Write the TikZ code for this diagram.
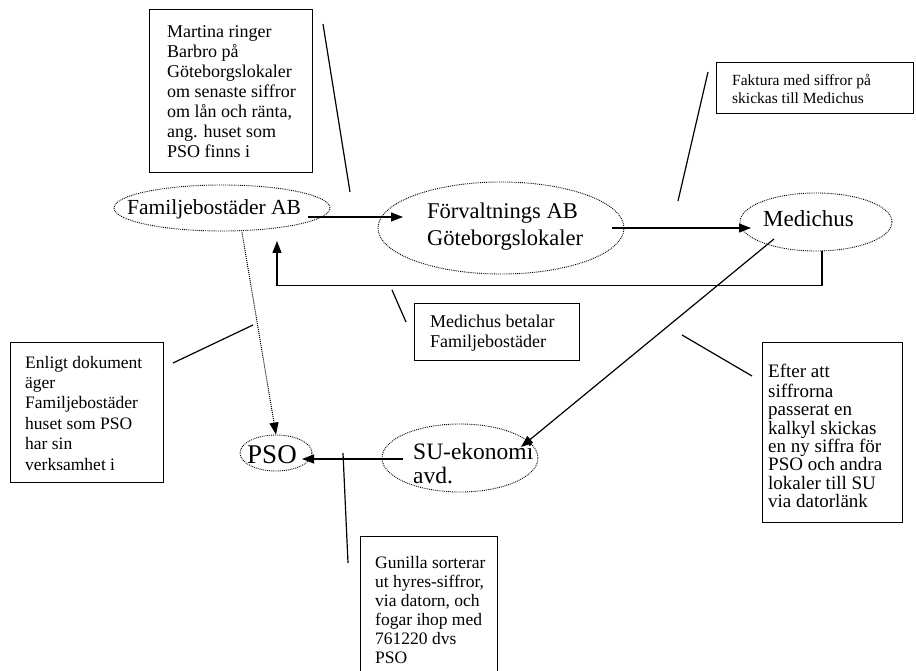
\documentclass[tikz,border=0pt]{standalone}
\usepackage{fontspec}
\setmainfont{Liberation Serif}
\usetikzlibrary{shapes.geometric,arrows.meta,calc}
\begin{document}
\begin{tikzpicture}[x=1pt,y=-1pt,
  ell/.style={draw, densely dotted, line width=0.9pt, ellipse, inner sep=0pt},
  lbl/.style={inner sep=0pt},
  boxn/.style={draw, line width=1.1pt, rectangle, anchor=north west, inner sep=0pt},
  btext/.style={anchor=north west, inner sep=0pt, align=left},
  conn/.style={line width=1.2pt},
  arr/.style={conn, -{Triangle[length=12pt,width=9pt]}},
  darr/.style={line width=1pt, densely dotted, -{Triangle[length=12pt,width=9pt]}}
]
\useasboundingbox (0,0) rectangle (916,671);

% ellipses
\node[ell, minimum width=216pt, minimum height=46pt] (fam) at (222,208) {};
\node[ell, minimum width=246pt, minimum height=92pt] (forv) at (501,228) {};
\node[ell, minimum width=152pt, minimum height=58pt] (med) at (816,222) {};
\node[ell, minimum width=72pt, minimum height=36pt] (pso) at (276,453) {};
\node[ell, minimum width=156pt, minimum height=68pt] (su) at (460,458) {};

% ellipse texts
\node[lbl, anchor=base west, font=\fontsize{21.5}{26}\selectfont] (famt) at (127,215) {Familjebostäder AB};
\node[lbl, anchor=north west, align=left, font=\fontsize{22.5}{27}\selectfont] (forvt) at (427,199.1) {\strut Förvaltnings AB\\Göteborgslokaler};
\node[lbl, anchor=base, font=\fontsize{23}{27}\selectfont] (medt) at (808.5,227) {Medichus};
\node[lbl, anchor=base, font=\fontsize{27}{30}\selectfont] (psot) at (272,463) {PSO};
\node[lbl, anchor=north west, align=left, font=\fontsize{23.5}{24}\selectfont] (sut) at (413,442.2) {\strut SU-ekonomi\\avd.};

% boxes
\node[boxn, minimum width=163pt, minimum height=163pt] (b1) at (149,9) {};
\node[btext, font=\fontsize{18}{20}\selectfont] (t1) at (167,23) {\strut Martina ringer\\Barbro på\\Göteborgslokaler\\om senaste siffror\\om lån och ränta,\\ang. huset som\\PSO finns i};

\node[boxn, minimum width=197pt, minimum height=51pt] (b2) at (716,62) {};
\node[btext, font=\fontsize{15.5}{18}\selectfont] (t2) at (732,72.4) {\strut Faktura med siffror på\\skickas till Medichus};

\node[boxn, minimum width=165pt, minimum height=57pt] (b3) at (414,303) {};
\node[btext, font=\fontsize{18}{20}\selectfont] (t3) at (430,313) {\strut Medichus betalar\\Familjebostäder};

\node[boxn, minimum width=153pt, minimum height=140pt] (b4) at (10,342) {};
\node[btext, font=\fontsize{17.5}{20.4}\selectfont] (t4) at (25,353.7) {\strut Enligt dokument\\äger\\Familjebostäder\\huset som PSO\\har sin\\verksamhet i};

\node[boxn, minimum width=140pt, minimum height=180pt] (b5) at (762,342) {};
\node[btext, font=\fontsize{19}{18.3}\selectfont] (t5) at (768,364.2) {\strut Efter att\\siffrorna\\passerat en\\kalkyl skickas\\en ny siffra för\\PSO och andra\\lokaler till SU\\via datorlänk};

\node[boxn, minimum width=137pt, minimum height=150pt] (b6) at (360,536) {};
\node[btext, font=\fontsize{17.5}{19}\selectfont] (t6) at (375,554.7) {\strut Gunilla sorterar\\ut hyres-siffror,\\via datorn, och\\fogar ihop med\\761220 dvs\\PSO};

% connector end points
\coordinate (s1) at (308,217);
\coordinate (a1) at (403,217);
\coordinate (a2) at (751,228);
\coordinate (a3) at (277,241);
\coordinate (m4s) at (774,239);
\coordinate (a4) at (521,447);
\coordinate (a5) at (302,459);
\coordinate (s5) at (403,459);

% arrows
\draw[arr] (s1) -- (a1);
\draw[arr] ($(forv.east)+(-12,0)$) -- (a2);
\draw[arr] ($(med.south)+(6,0)$) -- ++(0,34) -| (a3);
\draw[darr] ($(fam.south)+(20,1)$) -- (pso.north);
\draw[arr] (m4s) -- (a4);
\draw[arr] (s5) -- (a5);

% callout lines
\coordinate (c1a) at (323,24);  \coordinate (c1b) at (350,192);
\coordinate (c2a) at (708,72);  \coordinate (c2b) at (678,201);
\coordinate (c3a) at (392,290); \coordinate (c3b) at (406,322);
\coordinate (c4a) at (173,363); \coordinate (c4b) at (253,325);
\coordinate (c5a) at (682,335); \coordinate (c5b) at (752,376);
\coordinate (c6a) at (343,453); \coordinate (c6b) at (348,563);
\draw[conn] (c1a) -- (c1b);
\draw[conn] (c2a) -- (c2b);
\draw[conn] (c3a) -- (c3b);
\draw[conn] (c4a) -- (c4b);
\draw[conn] (c5a) -- (c5b);
\draw[conn] (c6a) -- (c6b);
\end{tikzpicture}
\end{document}
